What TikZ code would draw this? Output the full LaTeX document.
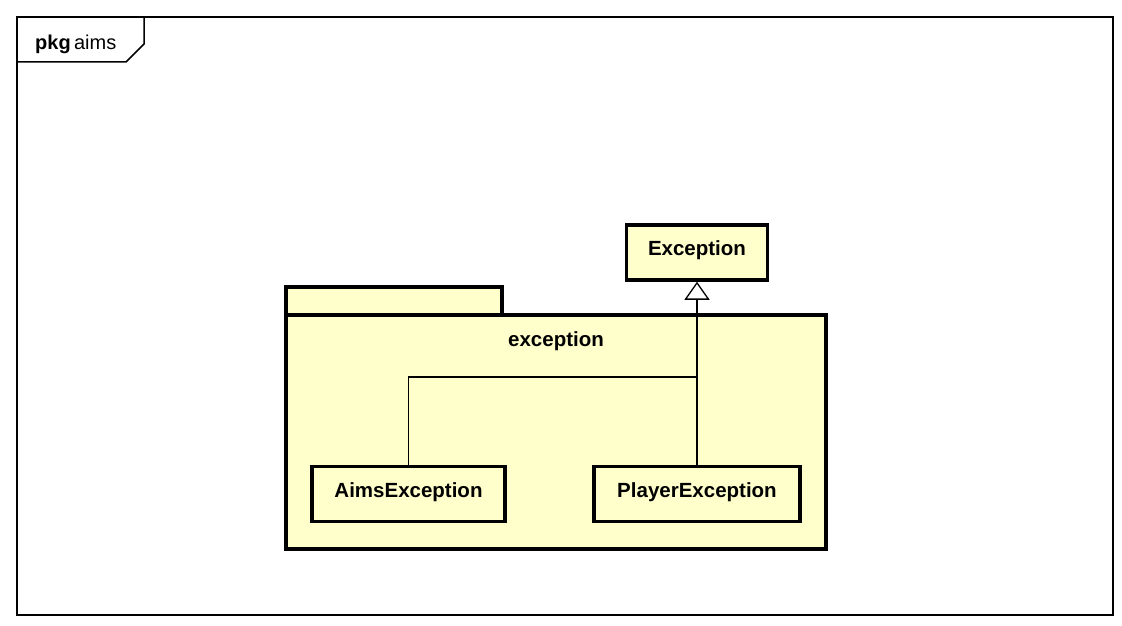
\documentclass[tikz,border=0pt]{standalone}
\usepackage{fontspec}
\setmainfont{Liberation Sans}
\usepackage{tikz}
\usetikzlibrary{arrows.meta,positioning}
\definecolor{Note}{HTML}{FFFFCC}
\definecolor{Ink}{HTML}{000000}
\tikzset{
  classbox/.style={draw=Ink,fill=Note,line width=3.5pt,minimum height=55pt,text height=14pt,text depth=8pt,font=\fontsize{20.5}{24}\selectfont\bfseries},
  gen/.style={-{Triangle[open,length=18pt,width=25pt,line width=1.3pt,fill=white]},line width=1.3pt}
}

\begin{document}
\begin{tikzpicture}[x=1pt,y=-1pt]
        \useasboundingbox (0,0) rectangle (1122,626);
        \fill[white] (0,0) rectangle (1122,626);
        % frame
        \draw[line width=1.5pt] (17,17) rectangle (1113,615);
        \draw[line width=1.5pt] (17,62) -- (126,62) -- (144,44) -- (144,17);
        \node[anchor=base west,inner sep=0pt,font=\fontsize{20}{24}\selectfont] (frametitle) at (35,50) {\textbf{pkg}\,aims};
        % package exception
        \draw[draw=Ink,fill=Note,line width=3.5pt] (286,287) rectangle (502,315);
        \node[draw=Ink,fill=Note,line width=3.5pt,minimum width=540pt,minimum height=234pt] (exception) at (556,432) {};
        \node[font=\fontsize{20.5}{24}\selectfont\bfseries,below=15pt of exception.north] (exclabel) {exception};
        % classes
        \node[classbox,minimum width=141pt] (exc) at (697,252.5) {Exception};
        \node[classbox,minimum width=193pt] (aims) at (408.5,494) {AimsException};
        \node[classbox,minimum width=206pt] (player) at (697,494) {PlayerException};
        \coordinate (join) at (697,377);
        \draw[line width=1.3pt] (aims.north) |- (join);
        \draw[gen] (player.north) -- (exc.south);
      \end{tikzpicture}
\end{document}
